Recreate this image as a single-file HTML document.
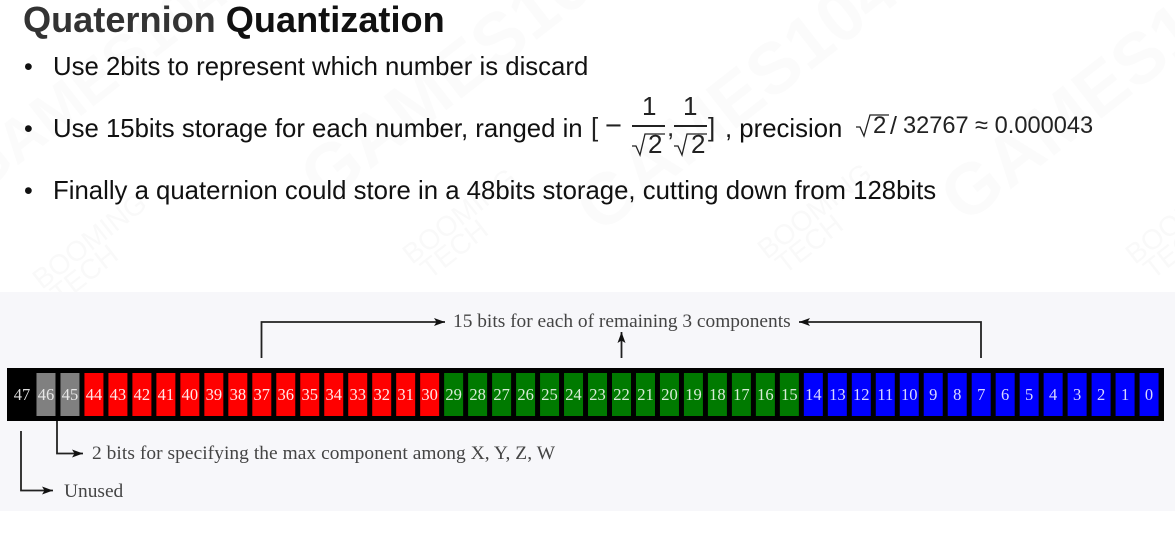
<!DOCTYPE html>
<html lang="en">
<head>
<meta charset="utf-8">
<title>Quaternion Quantization</title>
<style>
html,body{margin:0;padding:0;background:#fff;overflow:hidden;}
#page{position:relative;width:1175px;height:544px;overflow:hidden;background:#fff;font-family:"Liberation Sans",Arial,sans-serif;color:#000;}
#page div.t{position:absolute;white-space:nowrap;}
.title{left:23px;top:0;font-size:36.15px;line-height:40px;font-weight:bold;color:#111;}
.title span{color:#333;}
.b{font-size:25.75px;line-height:30px;color:#111;}
.dot{font-size:25px;line-height:30px;left:24px;color:#111;}
.m{position:absolute;white-space:nowrap;color:#222;font-size:26px;line-height:30px;}
#watermarks{position:absolute;left:0;top:0;}
#diagram{position:absolute;left:0;top:0;}
</style>
</head>
<body>
<div id="page">
  <svg id="watermarks" width="1175" height="544" viewBox="0 0 1175 544" xmlns="http://www.w3.org/2000/svg">
    <g font-family="'Liberation Sans',Arial,sans-serif" font-weight="bold" fill="#fbfbfb">
      <text transform="translate(-20,195) rotate(-38)" font-size="60">GAMES104</text>
      <text transform="translate(325,205) rotate(-38)" font-size="72">GAMES104</text>
      <text transform="translate(600,235) rotate(-38)" font-size="72">GAMES104</text>
      <text transform="translate(965,225) rotate(-38)" font-size="72">GAMES104</text>
    </g>
    <g font-family="'Liberation Sans',Arial,sans-serif" font-size="28" fill="#f9f9f9">
      <text transform="translate(42,290) rotate(-38)">BOOMING</text>
      <text transform="translate(60,305) rotate(-38)">TECH</text>
      <text transform="translate(412,265) rotate(-38)">BOOMING</text>
      <text transform="translate(430,280) rotate(-38)">TECH</text>
      <text transform="translate(767,260) rotate(-38)">BOOMING</text>
      <text transform="translate(785,275) rotate(-38)">TECH</text>
      <text transform="translate(1135,265) rotate(-38)">BOOMING</text>
      <text transform="translate(1153,280) rotate(-38)">TECH</text>
    </g>
  </svg>

  <div class="t title"><span>Quaternion</span> Quantization</div>

  <div class="t dot" style="top:52px">•</div>
  <div class="t b" style="left:53px;top:52px">Use 2bits to represent which number is discard</div>

  <div class="t dot" style="top:114px">•</div>
  <div class="t b" style="left:53px;top:114px">Use 15bits storage for each number, ranged in</div>

  <div class="m" style="left:591px;top:112px">[</div>
  <div class="m" style="left:605px;top:111px;font-size:29px">−</div>
  <div class="m" style="left:642px;top:91px">1</div>
  <div style="position:absolute;left:632px;top:125px;width:33px;height:2px;background:#222"></div>
  <div class="m" style="left:648px;top:129px">2</div>
  <div class="m" style="left:667px;top:112px">,</div>
  <div class="m" style="left:683px;top:91px">1</div>
  <div style="position:absolute;left:674px;top:125px;width:33px;height:2px;background:#222"></div>
  <div class="m" style="left:691px;top:129px">2</div>
  <div class="m" style="left:708px;top:112px">]</div>

  <div class="t b" style="left:725px;top:114px">, precision</div>
  <div class="m" style="left:873px;top:111px;font-size:24px">2</div>
  <div class="m" style="left:890px;top:111px;font-size:25px">/</div>
  <div class="m" style="left:903px;top:111px;font-size:23.6px">32767 ≈ 0.000043</div>

  <div class="t dot" style="top:176px">•</div>
  <div class="t b" style="left:53px;top:176px">Finally a quaternion could store in a 48bits storage, cutting down from 128bits</div>

  <svg id="diagram" width="1175" height="544" viewBox="0 0 1175 544" xmlns="http://www.w3.org/2000/svg">
    <defs>
      <marker id="arrow" markerWidth="12" markerHeight="10" refX="11" refY="5" orient="auto" markerUnits="userSpaceOnUse">
        <path d="M0,1 L11,5 L0,9 L2.500,5 Z" fill="#111"></path>
      </marker>
    </defs>
    <rect x="0" y="292" width="1175" height="219" fill="#f7f7fa"></rect>
    <rect x="7" y="368" width="1157" height="53" fill="#000"></rect>
    <g id="cells"></g>

    <g fill="none" stroke="#222" stroke-width="1.800">
      <path d="M261.500,358 V322 H445" marker-end="url(#arrow)"></path>
      <path d="M981,358 V322 H799" marker-end="url(#arrow)"></path>
      <path d="M621.500,358 V332" marker-end="url(#arrow)"></path>
      <path d="M57,421 V453.500 H83" marker-end="url(#arrow)"></path>
      <path d="M21,431 V490.500 H53" marker-end="url(#arrow)"></path>
    </g>

    <g font-family="'Liberation Serif','Times New Roman',serif" font-size="19.400" fill="#444">
      <text x="453" y="327">15 bits for each of remaining 3 components</text>
      <text x="92" y="459" textLength="463">2 bits for specifying the max component among X, Y, Z, W</text>
      <text x="64" y="497">Unused</text>
    </g>

    <g fill="none" stroke="#222" stroke-width="1.300">
      <path d="M632,146 L636,146 L640,155 L645,134 H665"></path>
      <path d="M674,146 L678,146 L682,155 L687,134 H707"></path>
      <path d="M856,127 L860,127 L864,136 L870,115 H889"></path>
    </g>
  </svg>
</div>

<script>
var bitLabels = [47,46,45,44,43,42,41,40,39,38,37,36,35,34,33,32,31,30,29,28,27,26,25,24,23,22,21,20,19,18,17,16,15,14,13,12,11,10,9,8,7,6,5,4,3,2,1,0];
var groupNames = ['unused','max','x','y','z'];
var groupSizes = [1,2,15,15,15];
var groupColors = ['#000000','#808080','#ff0000','#007a00','#0000ff'];
var groupTextColors = ['#dddddd','#e8e8e8','#ffe8e8','#d8ecd8','#d8d8ff'];

var SVG_NS = 'http://www.w3.org/2000/svg';
var stripLeft = 22;
var stripPitch = 23.98;
var cellWidth = 19;
var cellTop = 373;
var cellHeight = 43;

function xForIndex(i) {
  return stripLeft + i * stripPitch;
}
function groupForIndex(i) {
  var total = 0;
  for (var g = 0; g < groupSizes.length; g++) {
    total += groupSizes[g];
    if (i < total) return g;
  }
  return groupSizes.length - 1;
}

var cellsGroup = document.getElementById('cells');
bitLabels.forEach(function (label, i) {
  var g = groupForIndex(i);
  var cx = xForIndex(i);

  var rect = document.createElementNS(SVG_NS, 'rect');
  
  
  rect.setAttribute('x', cx - cellWidth / 2);
  rect.setAttribute('y', cellTop);
  rect.setAttribute('width', cellWidth);
  rect.setAttribute('height', cellHeight);
  rect.setAttribute('fill', groupColors[g]);
  cellsGroup.appendChild(rect);

  var text = document.createElementNS(SVG_NS, 'text');
  
  
  text.setAttribute('x', cx);
  text.setAttribute('y', cellTop + 27);
  text.setAttribute('text-anchor', 'middle');
  text.setAttribute('font-family', "'Liberation Serif','Times New Roman',serif");
  text.setAttribute('font-size', '16.5');
  text.setAttribute('fill', groupTextColors[g]);
  text.textContent = label;
  cellsGroup.appendChild(text);
});
</script>
</body>
</html>
